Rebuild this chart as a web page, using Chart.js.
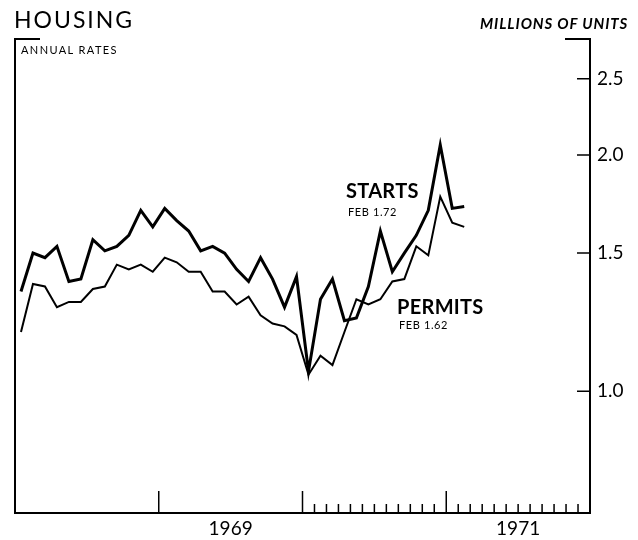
<!DOCTYPE html>
<html>
<head>
<meta charset="utf-8">
<script src="https://cdn.jsdelivr.net/npm/chart.js@4"></script>
<style>
  body { margin: 0; background: #fff; }
  #wrap { position: relative; width: 638px; height: 540px; }
  #wrap canvas { position: absolute; left: 0; top: 0; }
  .txt { position: absolute; font-family: Lato, "Liberation Sans", sans-serif; color: #000; white-space: nowrap; line-height: 1; }
</style>
</head>
<body>
<div id="wrap">
  <canvas id="housing" width="638" height="540"></canvas>
  <div class="txt" style="left:14px; top:8px; font-size:23px; letter-spacing:2px;">HOUSING</div>
  <div class="txt" style="left:21px; top:44px; font-size:11px; letter-spacing:1.4px;">ANNUAL RATES</div>
  <div class="txt" style="left:480px; top:16px; font-size:15px; font-weight:bold; font-style:italic; letter-spacing:0.9px;">MILLIONS OF UNITS</div>
  <div class="txt" style="left:346px; top:180px; font-size:20px; font-weight:bold; letter-spacing:0.3px;">STARTS</div>
  <div class="txt" style="left:348px; top:206px; font-size:11px; letter-spacing:0.6px;">FEB 1.72</div>
  <div class="txt" style="left:397px; top:296px; font-size:20px; font-weight:bold; letter-spacing:0.3px;">PERMITS</div>
  <div class="txt" style="left:399px; top:319px; font-size:11px; letter-spacing:0.6px;">FEB 1.62</div>
</div>
<script>
document.addEventListener('DOMContentLoaded', function () {
    //! monthly data, Jan 1968 - Feb 1971, millions of units (annual rates)
    var firstYear = 1968;
    var starts = [
        1.34, 1.50, 1.48, 1.53, 1.38, 1.39, 1.56, 1.51, 1.53, 1.58, 1.70, 1.62,   // 1968
        1.71, 1.65, 1.60, 1.51, 1.53, 1.50, 1.43, 1.38, 1.48, 1.39, 1.28, 1.40,   // 1969
        1.06, 1.31, 1.39, 1.23, 1.24, 1.36, 1.60, 1.42, 1.50, 1.58, 1.70, 2.06,   // 1970
        1.71, 1.72                                                                // 1971
    ];
    var permits = [
        1.19, 1.37, 1.36, 1.28, 1.30, 1.30, 1.35, 1.36, 1.45, 1.43, 1.45, 1.42,
        1.48, 1.46, 1.42, 1.42, 1.34, 1.34, 1.29, 1.32, 1.25, 1.22, 1.21, 1.18,
        1.05, 1.11, 1.08, 1.19, 1.31, 1.29, 1.31, 1.38, 1.39, 1.53, 1.49, 1.77,
        1.64, 1.62
    ];
    var yearLabels = ['1969', '1971'];
    var yTicks = [1.0, 1.5, 2.0, 2.5];

    //! month index -> x value (0 = Jan 1968)
    function toPoints(arr) {
        return arr.map(function (v, i) { return { x: i, y: v }; });
    }

    //!axis frame, year ticks, month ticks
    var frame = {
        id: 'frame',
        afterDraw: function (chart) {
            var ctx = chart.ctx;
            var a = chart.chartArea;
            var xs = chart.scales.x;
            var ys = chart.scales.y;
            ctx.save();
            ctx.strokeStyle = '#000';
            ctx.lineWidth = 2;
            ctx.beginPath();
            ctx.moveTo(a.left + 25, a.top);
            ctx.lineTo(a.left, a.top);
            ctx.lineTo(a.left, a.bottom);
            ctx.lineTo(a.right, a.bottom);
            ctx.lineTo(a.right, a.top);
            ctx.lineTo(a.right - 25, a.top);
            ctx.stroke();

            ctx.lineWidth = 1.5;
            ctx.beginPath();
            //! year boundaries
            for (var y = 1; y < 4; y++) {
                var px = xs.getPixelForValue(y * 12 - 0.5);
                ctx.moveTo(px, a.bottom);
                ctx.lineTo(px, a.bottom - 22);
            }
            //! month ticks 1970, 1971
            for (var m = 24; m < 47; m++) {
                if (m === 35) continue;
                var mx = xs.getPixelForValue(m + 0.5);
                ctx.moveTo(mx, a.bottom);
                ctx.lineTo(mx, a.bottom - 9);
            }
            //! y ticks inward from right axis
            yTicks.forEach(function (v) {
                var py = ys.getPixelForValue(v);
                ctx.moveTo(a.right, py);
                ctx.lineTo(a.right - 13, py);
            });
            ctx.stroke();
            ctx.restore();
        }
    };

    var housing = document.getElementById('housing').getContext('2d');
    var housingChart = new Chart(housing, {
        type: 'line',
        data: {
            datasets: [
                {
                    label: 'Starts',
                    data: toPoints(starts),
                    borderColor: '#000',
                    borderWidth: 3,
                    pointRadius: 0,
                    tension: 0,
                    fill: false
                },
                {
                    label: 'Permits',
                    data: toPoints(permits),
                    borderColor: '#000',
                    borderWidth: 2,
                    pointRadius: 0,
                    tension: 0,
                    fill: false
                }]
        },
        options: {
            responsive: false,
            animation: false,
            layout: { padding: { left: 15, top: 39, right: 0, bottom: 0 } },
            plugins: {
                legend: { display: false },
                tooltip: { enabled: false }
            },
            scales: {
                x: {
                    type: 'linear',
                    position: 'bottom',
                    min: -0.5,
                    max: 47.5,
                    grid: { display: false, drawTicks: false },
                    border: { display: false },
                    afterBuildTicks: function (scale) {
                        scale.ticks = yearLabels.map(function (l) {
                            return { value: (Number(l) - firstYear) * 12 + 5.5 };
                        });
                    },
                    afterFit: function (scale) { scale.height = 27; },
                    ticks: {
                        autoSkip: false,
                        maxRotation: 0,
                        padding: 4,
                        color: '#000',
                        font: { family: 'Lato', size: 19 },
                        callback: function (v) { return String(firstYear + Math.round((v - 5.5) / 12)); }
                    }
                },
                y: {
                    type: 'logarithmic',
                    position: 'right',
                    min: 0.702,
                    max: 2.81,
                    grid: { display: false, drawTicks: false },
                    border: { display: false },
                    afterBuildTicks: function (scale) {
                        scale.ticks = yTicks.map(function (v) { return { value: v }; });
                    },
                    afterFit: function (scale) { scale.width = 48; },
                    ticks: {
                        padding: 7,
                        color: '#000',
                        font: { family: 'Lato', size: 19 },
                        callback: function (v) { return Number(v).toFixed(1); }
                    }
                }
            }
        },
        plugins: [frame]
    });
});
</script>
</body>
</html>
